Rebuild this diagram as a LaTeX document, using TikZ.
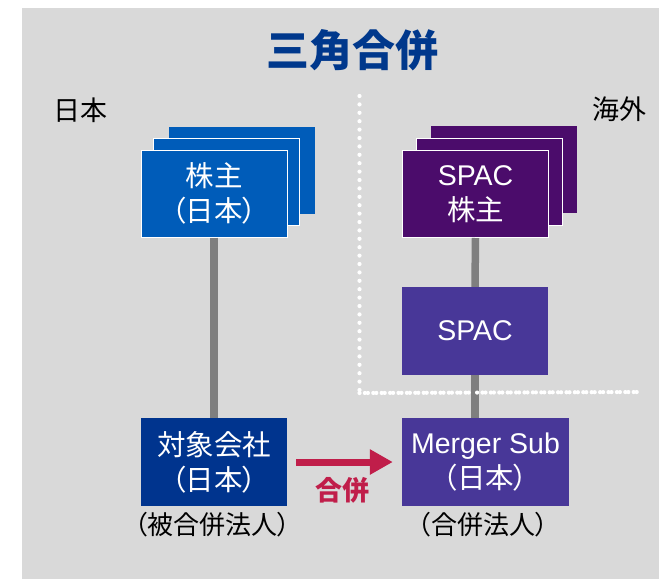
\documentclass[tikz,border=0pt]{standalone}
\usepackage{fontspec}
\setmainfont{Liberation Sans}
\newfontfamily\cjk{Noto Sans CJK JP}[RawFeature=+palt]
\usetikzlibrary{arrows.meta}
\definecolor{bggray}{RGB}{217,217,217}
\definecolor{jpblue}{RGB}{0,92,185}
\definecolor{tgtblue}{RGB}{0,52,142}
\definecolor{spacdark}{RGB}{75,12,107}
\definecolor{spacmid}{RGB}{72,55,152}
\definecolor{mergered}{RGB}{192,30,74}
\definecolor{titleblue}{RGB}{0,56,140}
\definecolor{linkgray}{RGB}{127,127,127}
\newcommand\bxfont{\fontsize{28.5}{35}\selectfont}
\tikzset{
  box/.style={minimum width=146pt, minimum height=87pt, inner sep=0pt, align=center, text=white, font=\bxfont},
  whiteedge/.style={draw=white, line width=1pt},
  link/.style={draw=linkgray, line width=7.5pt},
  sidelabel/.style={font=\cjk\fontsize{27}{32}\selectfont, text=black, inner sep=0pt},
  role/.style={font=\cjk\fontsize{26}{32}\selectfont, text=black, inner sep=0pt},
  border/.style={draw=white, line width=4.2pt, line cap=round, dash pattern=on 0pt off 8.4pt}
}
\begin{document}
\begin{tikzpicture}[x=1pt, y=-1pt]
\useasboundingbox (0,0) rectangle (659,579);
\fill[bggray] (22,8) rectangle (659,579);
% title
\node[font=\cjk\bfseries\fontsize{43}{50}\selectfont, text=titleblue, inner sep=0pt] (title) at (352,50) {三角合併};
\node[sidelabel] (jp) at (80,110) {日本};
\node[sidelabel] (ov) at (619,109) {海外};
% dotted border
\coordinate (d1) at (359.5,96);
\coordinate (d2) at (359.5,393);
\coordinate (d3) at (642,392);
\draw[border] (d1) -- (d2) -- (d3);
% Japanese shareholders stack
\node[box, fill=jpblue] (jpb3) at (242,170.5) {};
\node[box, fill=jpblue, whiteedge] (jpb2) at (226,181.5) {};
\node[box, fill=jpblue, whiteedge] (jpb1) at (214,193.5) {\cjk 株主\\\cjk （日本）};
% SPAC shareholders stack
\node[box, fill=spacdark] (spb3) at (504,169.5) {};
\node[box, fill=spacdark, whiteedge] (spb2) at (489,182) {};
\node[box, fill=spacdark, whiteedge] (spb1) at (475.5,194) {SPAC\\\cjk 株主};
% SPAC
\node[box, fill=spacmid, minimum height=88pt] (spac) at (475,331) {SPAC};
% target company
\node[box, fill=tgtblue, minimum height=88pt] (tgt) at (214,462) {\cjk 対象会社\\\cjk （日本）};
% merger sub
\node[box, fill=spacmid, minimum width=167pt, minimum height=88pt] (ms) at (485.5,462) {Merger Sub\\\cjk （日本）};
% links
\draw[link] (jpb1.south) -- (tgt.north);
\draw[link] (spb1.south) -- (spac.north);
\draw[link] (spac.south) -- (spac.south |- ms.north);
\draw[border] (d2) -- (d3);
% merger arrow
\draw[draw=mergered, line width=7pt, shorten <=9pt, shorten >=9pt, -{Triangle[length=23pt,width=24pt]}] (tgt.east) -- (ms.west);
\node[font=\cjk\bfseries\fontsize{27}{32}\selectfont, text=mergered, inner sep=0pt] (mlabel) at (342,490) {合併};
% role labels
\node[role] (r1) at (212.5,525) {（被合併法人）};
\node[role] (r2) at (483,525) {（合併法人）};
\end{tikzpicture}
\end{document}
